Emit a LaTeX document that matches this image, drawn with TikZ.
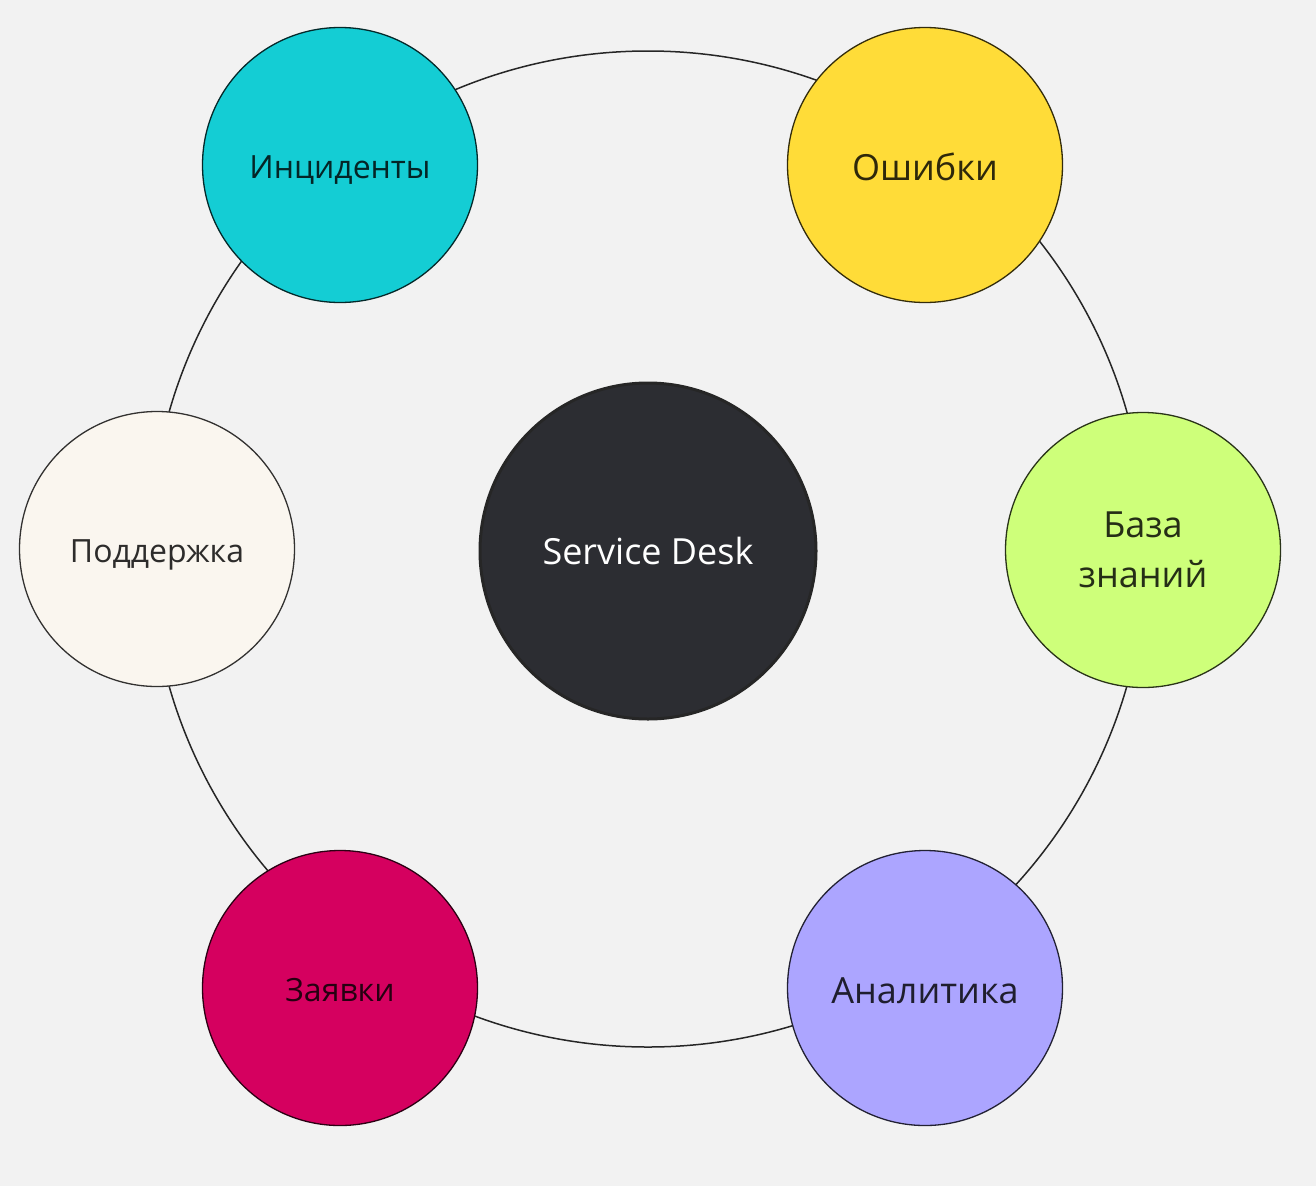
\documentclass[tikz,border=0pt]{standalone}
\usepackage{fontspec}
\setmainfont{Open Sans}
\definecolor{bg}{HTML}{F2F2F2}
\definecolor{cteal}{HTML}{14CDD4}
\definecolor{cyellow}{HTML}{FFDC38}
\definecolor{clime}{HTML}{CEFF7A}
\definecolor{clav}{HTML}{ACA5FF}
\definecolor{ccrim}{HTML}{D5005F}
\definecolor{ccream}{HTML}{FAF6EF}
\definecolor{cdark}{HTML}{2C2D32}
\tikzset{
  topic/.style={circle, draw=black!80!#1, fill=#1, line width=1.3pt,
    minimum size=275pt, inner sep=0pt, text=black!82!#1, align=center,
    font=\fontsize{32}{50}\selectfont},
  oneline/.style={text height=26pt, text depth=0pt},
  bigline/.style={font=\fontsize{36}{50}\selectfont, text height=30pt, text depth=0pt},
  bigtext/.style={font=\fontsize{36}{50}\selectfont},
  hub/.style={circle, draw=black!85, fill=cdark, line width=3pt,
    minimum size=336pt, inner sep=0pt, text=white,
    font=\fontsize{36}{44}\selectfont},
  ring/.style={draw=black!85, line width=1.5pt}
}
\begin{document}
\begin{tikzpicture}[x=1pt,y=-1pt]
\fill[bg] (0,0) rectangle (1316,1186);
\useasboundingbox (0,0) rectangle (1316,1186);
\coordinate (c) at (648,549);
\draw[ring] (c) circle (498pt);
\node[hub] (sd) at (648,551) {Service Desk};
\node[topic=cteal, oneline] (inc) at (340,165) {Инциденты};
\node[topic=cyellow, bigline] (err) at (925,165) {Ошибки};
\node[topic=ccream, oneline] (sup) at (157,549) {Поддержка};
\node[topic=clime, bigtext] (kb) at (1143,550) {База\\знаний};
\node[topic=ccrim, oneline] (req) at (340,988) {Заявки};
\node[topic=clav, bigline] (ana) at (925,988) {Аналитика};
\end{tikzpicture}
\end{document}
